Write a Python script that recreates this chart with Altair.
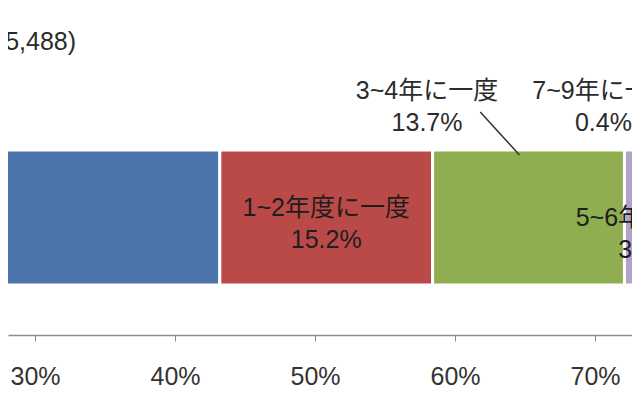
import altair as alt
import pandas as pd

# ---- data ----
categories = ["毎年", "1~2年度に一度", "3~4年に一度", "5~6年に一度", "7~9年に一度", "10年以上に一度"]
values = [43.2, 15.2, 13.7, 3.2, 0.4, 24.3]
colors = ["#4A74AA", "#BA4A47", "#8FAE4F", "#B3A2C7", "#4BACC6", "#F79646"]
tick_values = [30, 40, 50, 60, 70]
title_text = "(n=5,488)"

# ---- layout / style constants ----
FONT = "Liberation Sans, Noto Sans CJK JP, sans-serif"
FS = 25
X_DOMAIN = [28.07, 72.64]
W, H = 624, 327

starts = []
acc = 0.0
for v in values:
    starts.append(acc)
    acc += v
bars = pd.DataFrame({
    "cat": categories,
    "start": starts,
    "end": [s + v for s, v in zip(starts, values)],
    "row": ["all"] * len(categories),
})

xscale = alt.Scale(domain=X_DOMAIN, nice=False, zero=False)
yscale = alt.Scale(paddingInner=0, paddingOuter=0.711, align=0.74)
yenc = alt.Y("row:N", scale=yscale, axis=None)

bar = alt.Chart(bars).mark_bar(stroke="white", strokeWidth=3, clip=True).encode(
    x=alt.X("start:Q", scale=xscale,
            axis=alt.Axis(values=tick_values, labelExpr="datum.value + '%'", title=None,
                          grid=False, domainColor="#8c8c8c", tickColor="#8c8c8c",
                          tickSize=6, labelFontSize=FS, labelColor="#333333",
                          labelFont=FONT, labelPadding=23, labelFlush=False,
                          domainWidth=1.5)),
    x2="end:Q",
    y=yenc,
    color=alt.Color("cat:N", scale=alt.Scale(domain=categories, range=colors), legend=None),
)

def label_layer(text, xpos, dy, color):
    df = pd.DataFrame({"t": [text], "x": [xpos], "row": ["all"]})
    return alt.Chart(df).mark_text(
        fontSize=FS, font=FONT, lineBreak="\n", lineHeight=32, dy=dy,
        align="center", baseline="middle", color=color,
    ).encode(x=alt.X("x:Q", scale=xscale), y=yenc, text="t:N")

def pct(v):
    return f"{v:.1f}%"

red_c = (bars.start[1] + bars.end[1]) / 2
pur_c = (bars.start[3] + bars.end[3]) / 2

layers = [
    bar,
    label_layer(f"{categories[1]}\n{pct(values[1])}", red_c, -9.5, "#1e1e1e"),
    label_layer(f"{categories[3]}\n{pct(values[3])}", pur_c, 0.5, "#1e1e1e"),
    label_layer(f"{categories[2]}\n{pct(values[2])}", 58.0, -126.5, "#2b2b2b"),
    label_layer(f"{categories[4]}\n{pct(values[4])}", 70.6, -126.5, "#2b2b2b"),
]

title_df = pd.DataFrame({"t": [title_text], "x": [32.93], "row": ["all"]})
title = alt.Chart(title_df).mark_text(
    fontSize=FS, font=FONT, dy=-176, align="right", baseline="middle", color="#2b2b2b"
).encode(x=alt.X("x:Q", scale=xscale), y=yenc, text="t:N")

leader_df = pd.DataFrame({"x": [61.8], "x2": [64.6]})
leader = alt.Chart(leader_df).mark_rule(color="#333333", strokeWidth=1.5).encode(
    x=alt.X("x:Q", scale=xscale), x2="x2:Q", y=alt.value(104), y2=alt.value(147)
)

chart = alt.layer(*layers, title, leader).properties(
    width=W, height=H,
    autosize=alt.AutoSizeParams(type="none"),
    padding={"top": 0, "left": 0, "right": 0, "bottom": 53},
).configure(background="white", view=alt.ViewConfig(stroke=None))

chart.save("out.html", embed_options={"renderer": "svg", "actions": False})
